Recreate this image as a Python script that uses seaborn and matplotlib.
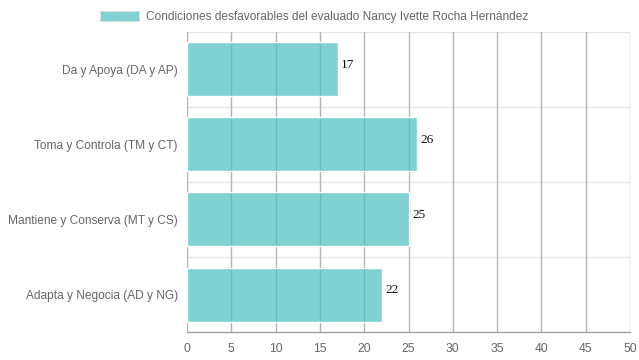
import matplotlib
matplotlib.use("Agg")
import matplotlib.pyplot as plt
import pandas as pd
import seaborn as sns
from matplotlib.patches import Patch
from matplotlib.ticker import FixedLocator, MultipleLocator

# --- Data -----------------------------------------------------------------
categories = [
    "Da y Apoya (DA y AP)",
    "Toma y Controla (TM y CT)",
    "Mantiene y Conserva (MT y CS)",
    "Adapta y Negocia (AD y NG)",
]
values = [17, 26, 25, 22]
series_label = "Condiciones desfavorables del evaluado Nancy Ivette Rocha Hernández"

BAR_COLOR = (75 / 255, 192 / 255, 192 / 255, 0.7)
TEXT_GRAY = "#666666"

df = pd.DataFrame({"categoria": categories, "valor": values})

sns.set_style("white")
plt.rcParams["font.family"] = ["Liberation Sans", "DejaVu Sans"]

fig = plt.figure(figsize=(6.39, 3.6), dpi=100)
ax = fig.add_axes([187 / 639, 28 / 360, 443 / 639, 300 / 360])

sns.barplot(data=df, y="categoria", x="valor", orient="h", color=BAR_COLOR,
            width=0.72, saturation=1, ax=ax, zorder=2)

ax.set_xlim(0, 50)
ax.set_ylim(len(categories) - 0.5, -0.5)
ax.xaxis.set_major_locator(MultipleLocator(5))

# vertical grid lines (dark), horizontal band separators (light)
bounds = [i - 0.5 for i in range(len(categories) + 1)]
for x in range(0, 55, 5):
    ax.axvline(x, color="#b3b3b3", lw=1, zorder=1)
for y in bounds[:-1]:
    ax.axhline(y, color="#e6e6e6", lw=1, zorder=0)
ax.yaxis.set_minor_locator(FixedLocator(bounds[:-1]))
ax.tick_params(axis="y", which="minor", length=7, width=1, color="#e6e6e6")

for s in ["top", "right", "left"]:
    ax.spines[s].set_visible(False)
ax.spines["bottom"].set_color("#a0a0a0")
ax.spines["bottom"].set_linewidth(1)

ax.tick_params(axis="x", colors="#b3b3b3", labelcolor=TEXT_GRAY, labelsize=8.7,
               length=5, width=1, pad=3)
ax.tick_params(axis="y", which="major", length=0, labelcolor=TEXT_GRAY,
               labelsize=8.6, pad=6.5)
ax.set_xlabel("")
ax.set_ylabel("")

# value labels (sit a little above the bar centre)
for i, v in enumerate(values):
    ax.annotate(str(v), (v, i), xytext=(2.5, 3.2), textcoords="offset points",
                va="center", ha="left", fontsize=9.6,
                family="Liberation Serif", color="#111111", zorder=3)

# legend
handle = Patch(facecolor=BAR_COLOR, edgecolor="#dddddd", lw=0.8)
fig.legend([handle], [series_label], loc="upper center",
           bbox_to_anchor=(0.492, 1.0), frameon=False, fontsize=8.6,
           labelcolor=TEXT_GRAY, handlelength=3.3, handleheight=0.95,
           handletextpad=0.6)

fig.savefig("out.png", dpi=100)
